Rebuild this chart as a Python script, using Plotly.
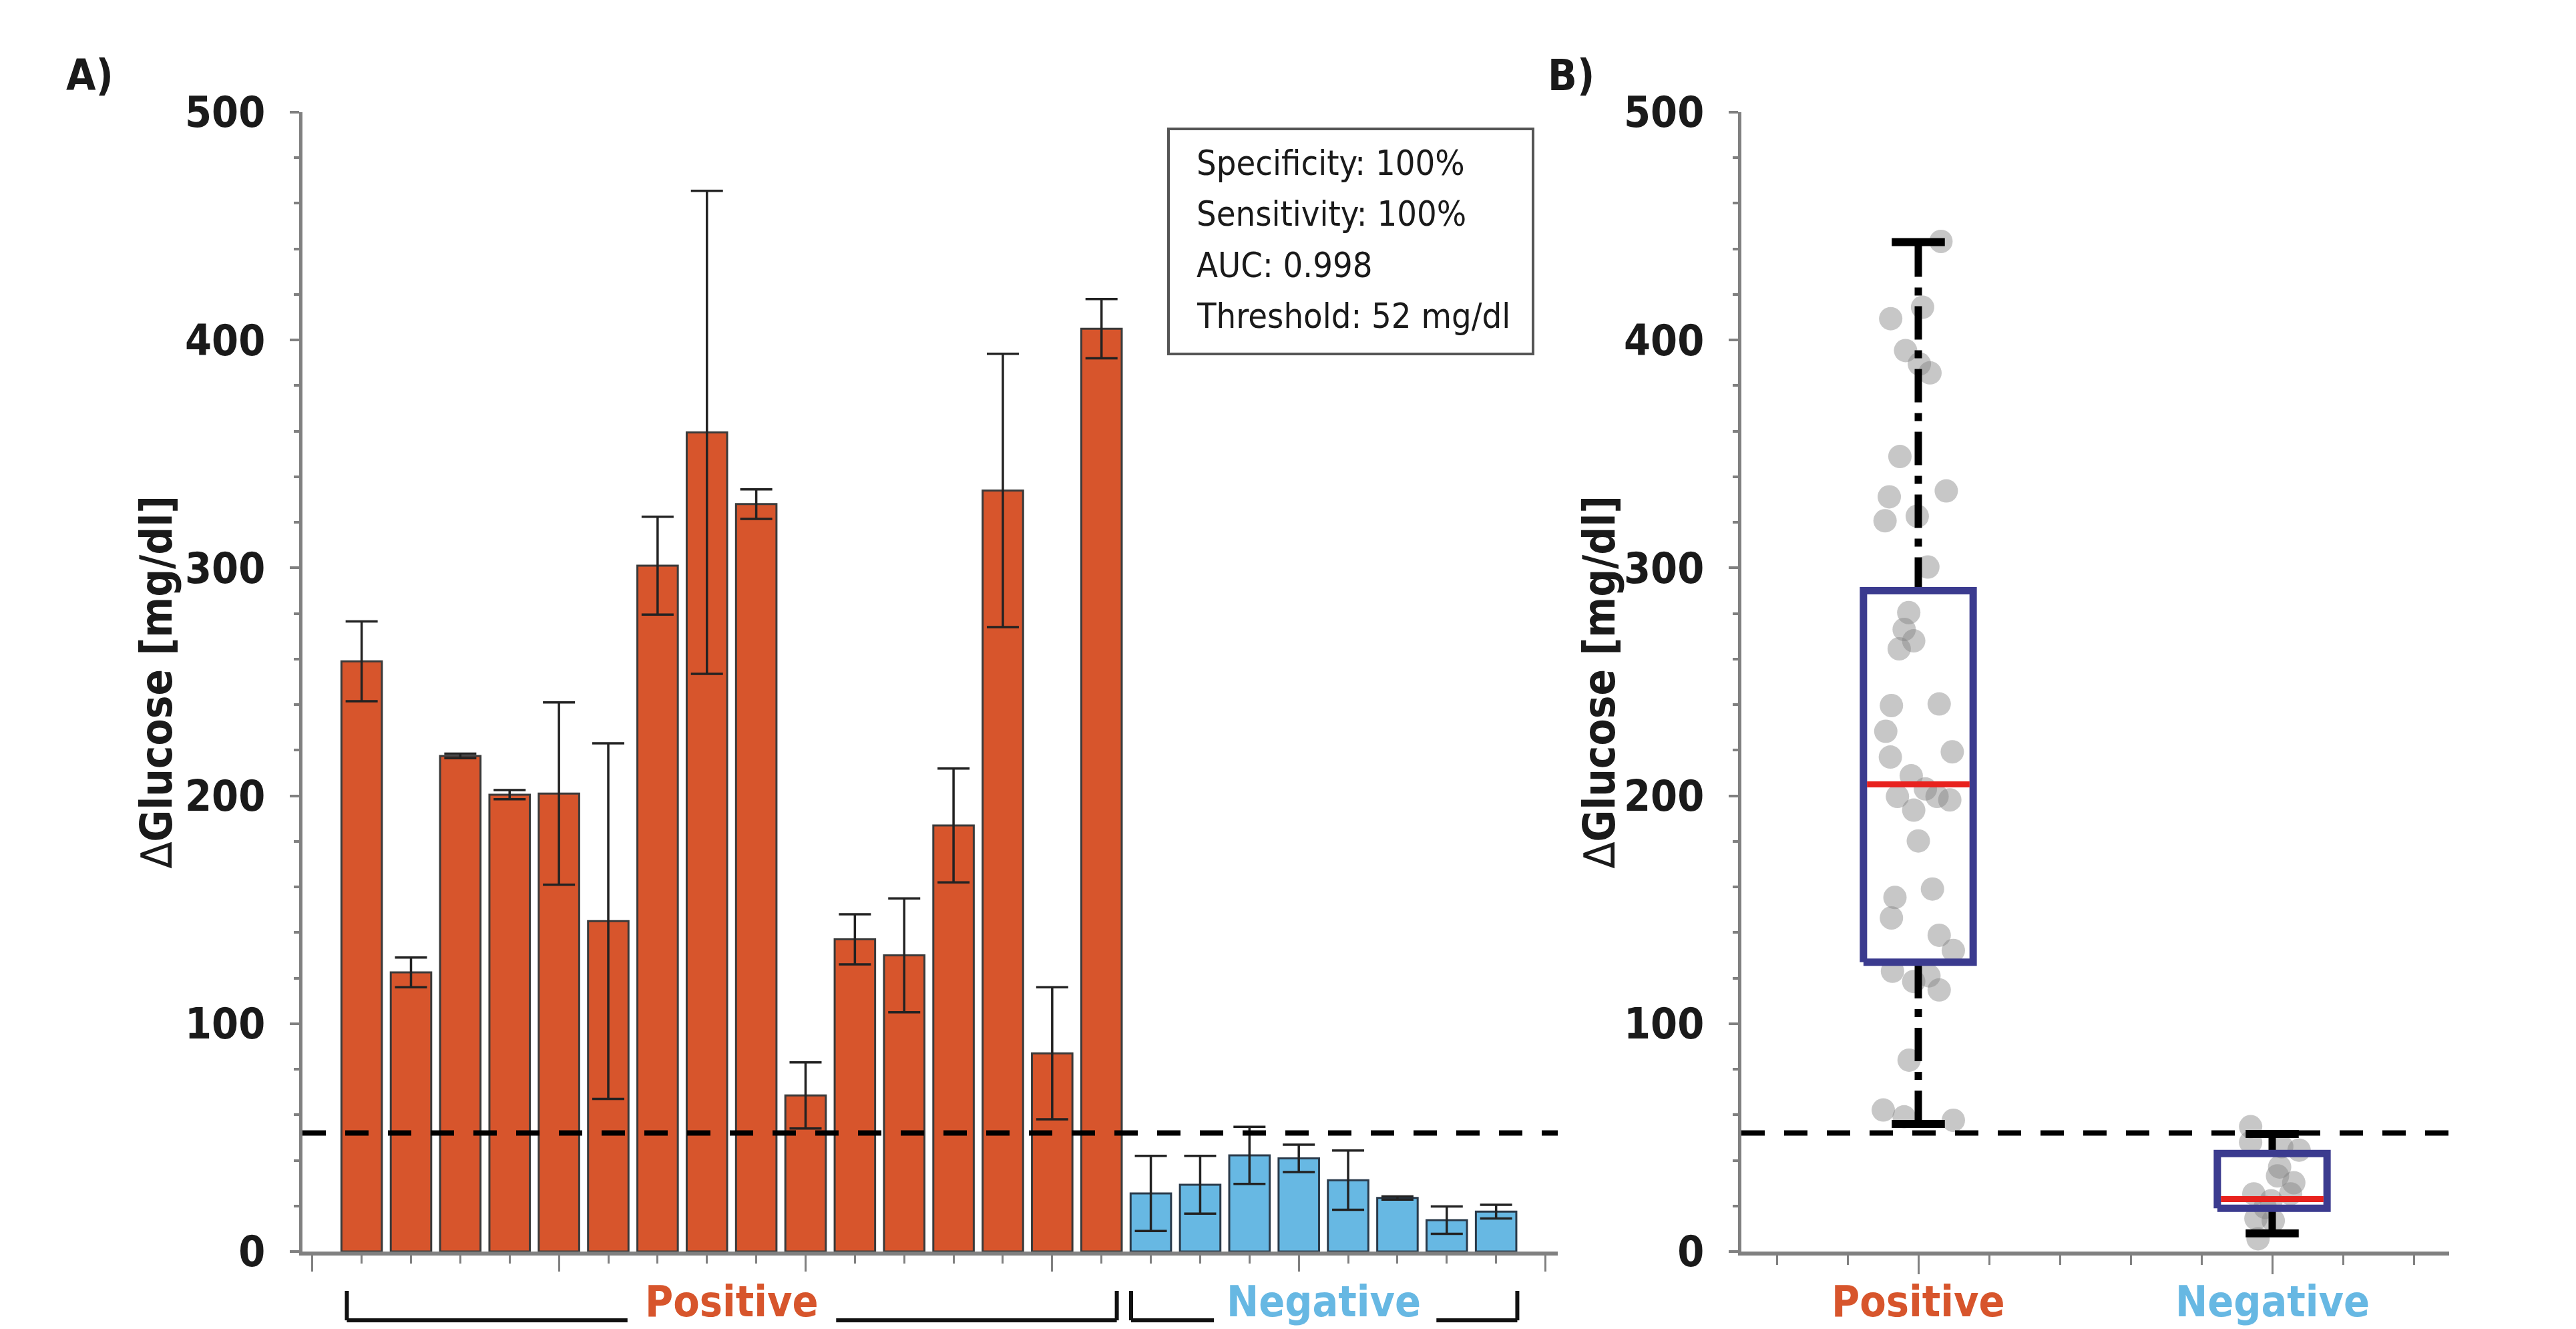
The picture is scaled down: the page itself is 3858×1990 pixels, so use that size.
import plotly.graph_objects as go

# ---------------- data ----------------
# Panel A: bar chart (mean ± error)
pos_bar_values = [259, 122.5, 217.5, 200.5, 201, 145, 301, 359.5, 328, 68.5, 137, 130, 187, 334, 87, 405]
pos_bar_errors = [17.5, 6.5, 1, 2, 40, 78, 21.5, 106, 6.5, 14.5, 11, 25, 25, 60, 29, 13]
neg_bar_values = [25.5, 29.3, 42.2, 40.9, 31.3, 23.5, 13.8, 17.5]
neg_bar_errors = [16.5, 12.7, 12.5, 6, 13, 0.7, 6, 3]

threshold = 52
stats_lines = ["Specificity: 100%", "Sensitivity: 100%", "AUC: 0.998", "Threshold: 52 mg/dl"]
group_labels = ["Positive", "Negative"]

# Panel B: box plot statistics
box_q1 = [127, 19]
box_median = [205, 23]
box_q3 = [290, 43]
box_lower = [56, 8]
box_upper = [443, 51.6]

# Panel B: individual points (value, horizontal jitter)
pos_points = [443.3, 414.4, 409.4, 395.4, 389.5, 385.6, 348.9, 331.2, 333.8, 320.7, 322.7, 300.4,
              280.4, 273, 268, 264.5, 239.6, 240.3, 228.3, 217, 219.3, 208.8, 199.7, 199.7, 193.7,
              198.2, 203, 180.2, 155.4, 159.1, 146.4, 138.8, 132.1, 123, 118.5, 114.8, 121, 84,
              62.1, 59.1, 57.6]
pos_jitter = [0.064, 0.012, -0.078, -0.036, 0.003, 0.033, -0.052, -0.082, 0.079, -0.094, -0.003, 0.027,
              -0.027, -0.04, -0.013, -0.054, -0.076, 0.059, -0.092, -0.079, 0.096, -0.02, -0.059, 0.053, -0.013,
              0.089, 0.02, 0.0, -0.066, 0.04, -0.076, 0.059, 0.099, -0.073, -0.013, 0.059, 0.03, -0.026,
              -0.099, -0.04, 0.099]
neg_points = [54.8, 47.9, 44.5, 46, 37.1, 33.2, 30.2, 25.3, 22.3, 25.3, 14.5, 13.5, 5.6, 19.4]
neg_jitter = [-0.061, -0.061, 0.076, 0.027, 0.021, 0.015, 0.061, -0.052, -0.003, 0.052, -0.046, 0.003, -0.04, -0.02]

# ---------------- style ----------------
ORANGE = "#D7552C"
BLUE = "#67B8E3"
BOXBLUE = "#3B3B8F"
AXIS = "#808080"
FONT = "Liberation Sans Narrow, Arial Narrow, DejaVu Sans Condensed, sans-serif"
TXT = "#1a1a1a"

W, H = 3858, 1990
ML, MR, MT, MB = 445, 198, 160, 124

fig = go.Figure()

n_pos = len(pos_bar_values)
n_neg = len(neg_bar_values)
x_pos = list(range(1, n_pos + 1))
x_neg = list(range(n_pos + 1, n_pos + n_neg + 1))

err_style = dict(type="data", color="#222222", thickness=3.5, width=24, visible=True)
fig.add_trace(go.Bar(x=x_pos, y=pos_bar_values, width=0.82,
                     error_y=dict(array=pos_bar_errors, **err_style),
                     marker=dict(color=ORANGE, line=dict(color="#3a3a3a", width=3)),
                     xaxis="x", yaxis="y", showlegend=False))
fig.add_trace(go.Bar(x=x_neg, y=neg_bar_values, width=0.82,
                     error_y=dict(array=neg_bar_errors, **err_style),
                     marker=dict(color=BLUE, line=dict(color="#2a3a4a", width=3)),
                     xaxis="x", yaxis="y", showlegend=False))

# Panel B points
box_x = [1, 2]
fig.add_trace(go.Scatter(x=[box_x[0] + j for j in pos_jitter], y=pos_points, mode="markers",
                         marker=dict(size=35, color="rgba(130,130,130,0.45)", line=dict(width=0)),
                         xaxis="x2", yaxis="y2", showlegend=False))
fig.add_trace(go.Scatter(x=[box_x[1] + j for j in neg_jitter], y=neg_points, mode="markers",
                         marker=dict(size=35, color="rgba(130,130,130,0.45)", line=dict(width=0)),
                         xaxis="x2", yaxis="y2", showlegend=False))

# Panel B boxes
hw = 0.155   # half box width
cw = 0.075   # half cap width
for i, c in enumerate(box_x):
    for a, b in [(box_q3[i], box_upper[i]), (box_lower[i], box_q1[i])]:
        fig.add_trace(go.Scatter(x=[c, c], y=[a, b], mode="lines",
                                 line=dict(color="black", width=11, dash="50px,16px,12px,16px"),
                                 xaxis="x2", yaxis="y2", showlegend=False))
    for v in [box_upper[i], box_lower[i]]:
        fig.add_trace(go.Scatter(x=[c - cw, c + cw], y=[v, v], mode="lines",
                                 line=dict(color="black", width=12),
                                 xaxis="x2", yaxis="y2", showlegend=False))
    fig.add_trace(go.Scatter(x=[c - hw, c + hw, c + hw, c - hw, c - hw],
                             y=[box_q1[i], box_q1[i], box_q3[i], box_q3[i], box_q1[i]],
                             mode="lines", line=dict(color=BOXBLUE, width=11),
                             xaxis="x2", yaxis="y2", showlegend=False))
    fig.add_trace(go.Scatter(x=[c - hw + 0.01, c + hw - 0.01], y=[box_median[i], box_median[i]],
                             mode="lines", line=dict(color="#E8221E", width=9),
                             xaxis="x2", yaxis="y2", showlegend=False))

PW = W - ML - MR
PH = H - MT - MB
dom_a = [0, (2325 - ML) / PW]
dom_b = [(2600 - ML) / PW, 1]

def px(xfull):
    return (xfull - ML) / PW

def py(yfull):
    return (H - MB - yfull) / PH

yaxis_common = dict(range=[0, 500], tickmode="array", tickvals=[0, 100, 200, 300, 400, 500],
                    ticks="outside", ticklen=14, tickwidth=4, tickcolor=AXIS,
                    showline=True, linecolor=AXIS, linewidth=5, showgrid=False, zeroline=False,
                    tickfont=dict(family=FONT, size=64, color=TXT, weight="bold"),
                    ticklabelstandoff=24,
                    minor=dict(tickmode="array", tickvals=[v for v in range(20, 500, 20) if v % 100],
                               ticks="outside", ticklen=8, tickwidth=4, tickcolor=AXIS))

fig.update_layout(
    width=W, height=H, margin=dict(l=ML, r=MR, t=MT, b=MB),
    paper_bgcolor="white", plot_bgcolor="white",
    xaxis=dict(domain=dom_a, range=[-0.2, 25.25], tickmode="array", tickvals=[0, 5, 10, 15, 20, 25],
               ticks="outside", ticklen=24, tickwidth=3, tickcolor=AXIS, showticklabels=False,
               showline=True, linecolor=AXIS, linewidth=6, showgrid=False, zeroline=False,
               minor=dict(tickmode="array", tickvals=[v for v in range(1, 26) if v % 5],
                          ticks="outside", ticklen=12, tickwidth=3, tickcolor=AXIS)),
    yaxis=dict(anchor="x", **yaxis_common),
    xaxis2=dict(domain=dom_b, range=[0.5, 2.5], anchor="y2", tickmode="array", tickvals=box_x,
                ticks="outside", ticklen=28, tickwidth=3, tickcolor=AXIS, showticklabels=False,
                showline=True, linecolor=AXIS, linewidth=6, showgrid=False, zeroline=False,
                minor=dict(tickmode="array", tickvals=[0.6, 0.8, 1.2, 1.4, 1.6, 1.8, 2.2, 2.4],
                           ticks="outside", ticklen=14, tickwidth=3, tickcolor=AXIS)),
    yaxis2=dict(anchor="x2", **yaxis_common),
)

# threshold dashed lines
for xr, yr in [("x domain", "y"), ("x2 domain", "y2")]:
    fig.add_shape(type="line", xref=xr, yref=yr, x0=0, x1=1, y0=threshold, y1=threshold,
                  line=dict(color="black", width=8, dash="35px,29px"), layer="above")

# statistics box
fig.add_shape(type="rect", xref="paper", yref="paper", x0=px(1742), x1=px(2288), y0=py(522), y1=py(185),
              line=dict(color="#555555", width=4), fillcolor="white", layer="above")
for line, yf in zip(stats_lines, [236, 312, 389, 465]):
    fig.add_annotation(text=line, xref="paper", yref="paper", x=px(1782), y=py(yf),
                       xanchor="left", yanchor="middle", showarrow=False,
                       font=dict(family=FONT, size=52, color=TXT))

# brackets under panel A
yb_top, yb_bot = py(1925), py(1969)
brk_color = "#111111"
segments = [(0.70, 6.39), (10.62, 16.31), (16.6, 18.28), (22.79, 24.43)]
for x0, x1 in segments:
    fig.add_shape(type="line", xref="x", yref="paper", x0=x0, x1=x1, y0=yb_bot, y1=yb_bot,
                  line=dict(color=brk_color, width=6))
for xv in [0.70, 16.31, 16.6, 24.43]:
    fig.add_shape(type="line", xref="x", yref="paper", x0=xv, x1=xv, y0=yb_top, y1=yb_bot,
                  line=dict(color=brk_color, width=6))

label_colors = [ORANGE, BLUE]
for lab, xc, col in zip(group_labels, [8.5, 20.5], label_colors):
    fig.add_annotation(text=lab, xref="x", yref="paper", x=xc, y=py(1941), showarrow=False,
                       xanchor="center", yanchor="middle",
                       font=dict(family=FONT, size=64, color=col, weight="bold"))
for lab, xc, col in zip(group_labels, box_x, label_colors):
    fig.add_annotation(text=lab, xref="x2", yref="paper", x=xc, y=py(1941), showarrow=False,
                       xanchor="center", yanchor="middle",
                       font=dict(family=FONT, size=64, color=col, weight="bold"))

# axis titles
for xf in [226, 2387]:
    fig.add_annotation(text="∆<b>Glucose [mg/dl]</b>", xref="paper", yref="paper", x=px(xf), y=py(1014),
                       textangle=-90, showarrow=False, xanchor="center", yanchor="middle",
                       font=dict(family=FONT, size=65, color=TXT))

# panel labels
for lab, xf in [("A)", 126), ("B)", 2345)]:
    fig.add_annotation(text=lab, xref="paper", yref="paper", x=px(xf), y=py(105), showarrow=False,
                       xanchor="center", yanchor="middle",
                       font=dict(family=FONT, size=64, color=TXT, weight="bold"))

fig.write_html("out.html")
